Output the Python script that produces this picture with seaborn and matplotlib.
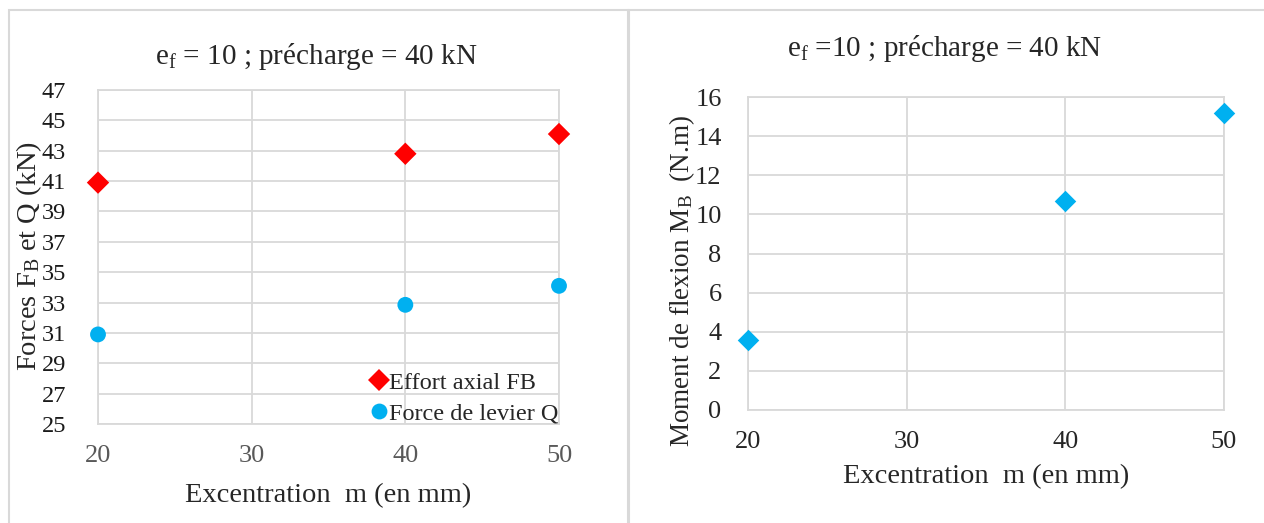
import matplotlib.pyplot as plt
import pandas as pd
import seaborn as sns
from matplotlib.patches import Rectangle

# data
excentration = [20, 40, 50]
effort_axial_fb = [40.9, 42.8, 44.1]
force_levier_q = [30.9, 32.85, 34.1]
moment_flexion_mb = [3.6, 10.7, 15.2]

x_ticks = [20, 30, 40, 50]
y_ticks_left = list(range(25, 48, 2))
y_ticks_right = list(range(0, 17, 2))

RED = '#FF0000'
BLUE = '#00B0F0'
GRID = '#D9D9D9'

sns.set_theme(style='white')
plt.rcParams['font.family'] = ['Liberation Serif', 'DejaVu Serif']
plt.rcParams['mathtext.fontset'] = 'custom'
plt.rcParams['mathtext.rm'] = 'Liberation Serif'
plt.rcParams['mathtext.it'] = 'Liberation Serif:italic'


def style_axes(ax, yticks, ylim, xcolor, ycolor, ysize, ypad):
    ax.set_xlim(20, 50)
    ax.set_ylim(*ylim)
    ax.set_xticks(x_ticks)
    ax.set_yticks(yticks)
    ax.grid(True, color=GRID, linewidth=1.3)
    ax.set_axisbelow(True)
    for spine in ax.spines.values():
        spine.set_color(GRID)
        spine.set_linewidth(1.3)
    ax.tick_params(left=False, bottom=False)
    ax.tick_params(axis='x', colors=xcolor, pad=9, labelsize=19)
    ax.tick_params(axis='y', colors=ycolor, pad=ypad, labelsize=ysize)
    ax.set(xlabel=None, ylabel=None)


fig = plt.figure(figsize=(12.64, 5.23), dpi=100)

# panel frames
fig.patches.append(Rectangle((9 / 1264, -0.05), 619 / 1264, 1.05 - 10 / 523, transform=fig.transFigure,
                             fill=False, edgecolor=GRID, linewidth=1.5))
fig.patches.append(Rectangle((629 / 1264, -0.05), 640 / 1264, 1.05 - 10 / 523, transform=fig.transFigure,
                             fill=False, edgecolor=GRID, linewidth=1.5))

# left chart
ax1 = fig.add_axes([98 / 1264, 1 - 424 / 523, 461 / 1264, 334 / 523])
df_left = pd.DataFrame({
    'm': excentration * 2,
    'value': effort_axial_fb + force_levier_q,
    'serie': ['Effort axial FB'] * 3 + ['Force de levier Q'] * 3,
})
sns.scatterplot(data=df_left, x='m', y='value', hue='serie', style='serie',
                palette=[RED, BLUE], markers=['D', 'o'], s=130, linewidth=0,
                ax=ax1, clip_on=False, zorder=3)
style_axes(ax1, y_ticks_left, (25, 47), '#595959', '#1a1a1a', 17.5, 17)
ax1.legend(loc='lower right', frameon=False, fontsize=17.5, handlelength=0.6, handletextpad=0.1,
           borderaxespad=0.0, labelspacing=0.35, bbox_to_anchor=(1.02, -0.03))
fig.text(316 / 1264, 1 - 57 / 523, r'$\mathregular{e_f}$ = 10 ; précharge = 40 kN',
         ha='center', va='center', fontsize=21)
fig.text(29 / 1264, 1 - 256 / 523, r'Forces $\mathregular{F_B}$ et Q (kN)', rotation=90,
         ha='center', va='center', fontsize=20.5)
fig.text(328 / 1264, 1 - 496 / 523, 'Excentration  m (en mm)', ha='center', va='center', fontsize=20.5)

# right chart
ax2 = fig.add_axes([748 / 1264, 1 - 410 / 523, 476 / 1264, 313 / 523])
sns.scatterplot(x=excentration, y=moment_flexion_mb, color=BLUE, marker='D', s=120, linewidth=0,
                ax=ax2, clip_on=False, zorder=3)
style_axes(ax2, y_ticks_right, (0, 16), '#262626', '#262626', 19, 13)
fig.text(945 / 1264, 1 - 48 / 523, r'$\mathregular{e_f}$ =10 ; précharge = 40 kN',
         ha='center', va='center', fontsize=21)
fig.text(682 / 1264, 1 - 281 / 523, r'Moment de flexion $\mathregular{M_B}$  (N.m)', rotation=90,
         ha='center', va='center', fontsize=19.5)
fig.text(986 / 1264, 1 - 477 / 523, 'Excentration  m (en mm)', ha='center', va='center', fontsize=20.5)

fig.savefig('out.png', dpi=100)
